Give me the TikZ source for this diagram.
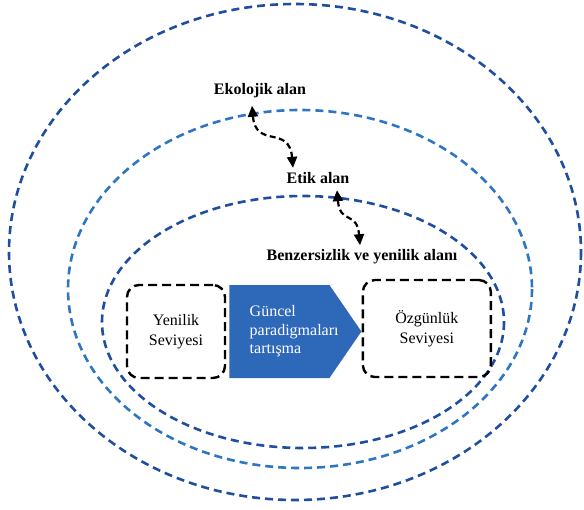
\documentclass[tikz,border=0pt]{standalone}
\usepackage{fontspec}
\setmainfont{Liberation Serif}
\usetikzlibrary{positioning,shapes.symbols,arrows.meta}
\definecolor{ringdark}{RGB}{31,78,160}
\definecolor{ringlight}{RGB}{46,117,196}
\definecolor{paradigm}{RGB}{46,104,184}
\tikzset{
  every node/.style={
    font=\fontsize{16}{20}\selectfont
  },
  ring/.style={dash pattern=on 8pt off 5pt, line width=2.6pt},
  levelbox/.style={draw, dash pattern=on 9pt off 5pt, line width=2.4pt,
    rounded corners=12pt, align=center},
  areatext/.style={font=\fontsize{16}{19}\selectfont\bfseries},
  link/.style={dash pattern=on 6pt off 3.5pt, line width=2.2pt,
    {Triangle[length=11pt,width=10pt]}-{Triangle[length=11pt,width=10pt]}}
}

\begin{document}
\begin{tikzpicture}[x=1pt,y=-1pt]
        \useasboundingbox (0,0) rectangle (584,509);
        \draw[ring, ringdark] (295,252) ellipse [x radius=286, y radius=248];
        \draw[ring, ringlight] (300,289) ellipse [x radius=232, y radius=179];
        \draw[ring, ringdark] (303,322) ellipse [x radius=201, y radius=126];
        \node[areatext] (Eko) at (260,91) {Ekolojik alan};
        \node[areatext] (Etik) at (318,178) {Etik alan};
        \node[areatext] (Benz) at (362,257) {Benzersizlik ve yenilik alanı};
        \node[levelbox, minimum width=98pt, minimum height=93pt] (Yen) at (176,331.5) {Yenilik\\Seviyesi};
        \node[signal, signal to=east, signal pointer angle=111, fill=paradigm,
          minimum width=132pt, minimum height=93pt, inner sep=0pt,
          right=3pt of Yen] (Guncel) {};
        \node[text=white, align=left, anchor=west, font=\fontsize{16}{18.5}\selectfont]
          (GuncelText) at ([xshift=17pt]Guncel.west) {Güncel\\paradigmaları\\tartışma};
        \node[levelbox, minimum width=128pt, minimum height=97pt, right=0pt of Guncel, yshift=3pt] (Ozg) {Özgünlük\\Seviyesi};
        \draw[link] ([xshift=-8pt,yshift=-4pt]Eko.south) to[out=-85,in=95,looseness=1.5] ([xshift=-25pt,yshift=1pt]Etik.north);
        \draw[link] ([xshift=19pt,yshift=-3pt]Etik.south) to[out=-85,in=95,looseness=1.5] ([xshift=-2pt,yshift=1pt]Benz.north);
      \end{tikzpicture}
\end{document}
